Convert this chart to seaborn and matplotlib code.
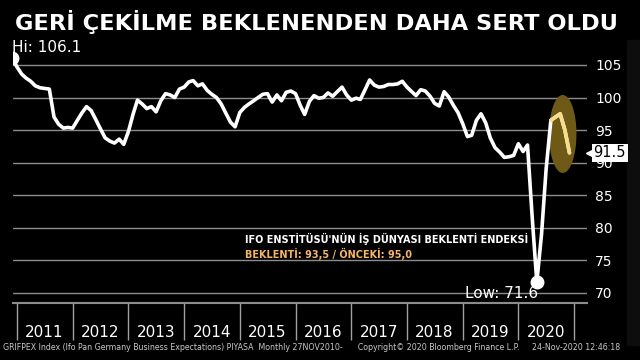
import matplotlib
matplotlib.use("Agg")
import numpy as np
import pandas as pd
import matplotlib.pyplot as plt
import matplotlib.dates as mdates
import seaborn as sns
from matplotlib.patches import Ellipse, Rectangle
from matplotlib.transforms import blended_transform_factory

# Ifo business expectations, monthly, Nov 2010 - Nov 2020
# (Bloomberg plots each monthly value at the end of its month)
dates = pd.date_range("2010-12-01", periods=121, freq="MS")
values = [
    106.1, 104.7, 103.6, 103.0, 102.5, 101.8, 101.5, 101.4, 101.3, 97.0,
    95.9, 95.3, 95.4, 95.3, 96.5, 97.6, 98.6, 98.0, 96.6, 95.2,
    93.8, 93.3, 93.0, 93.6, 92.8, 94.8, 97.5, 99.6, 99.0, 98.3,
    98.6, 97.8, 99.5, 100.6, 100.4, 100.0, 101.3, 101.6, 102.4, 102.6,
    101.8, 102.1, 101.1, 100.5, 100.0, 99.0, 97.6, 96.2, 95.5, 97.7,
    98.5, 99.0, 99.5, 100.0, 100.5, 100.6, 99.3, 100.4, 99.5, 100.8,
    101.0, 100.6, 98.8, 97.4, 99.4, 100.3, 99.9, 100.0, 100.7, 100.2,
    100.9, 101.6, 100.4, 99.6, 99.9, 99.7, 101.2, 102.7, 101.9, 101.6,
    101.7, 102.0, 102.0, 102.1, 102.5, 101.6, 100.9, 100.3, 101.2, 101.0,
    100.2, 99.1, 98.7, 100.9, 100.1, 98.8, 97.7, 96.0, 94.0, 94.2,
    96.5, 97.5, 96.1, 93.8, 92.3, 91.6, 90.8, 90.9, 91.1, 92.9,
    91.7, 92.7, 81.5, 71.6, 79.0, 89.0, 96.5, 97.0, 97.5, 95.0,
    91.5,
]
highlight_from = 116  # last months drawn in yellow

yticks = [70, 75, 80, 85, 90, 95, 100, 105]

title = "GERİ ÇEKİLME BEKLENENDEN DAHA SERT OLDU"
legend_line1 = "IFO ENSTİTÜSÜ'NÜN İŞ DÜNYASI BEKLENTİ ENDEKSİ"
legend_line2 = "BEKLENTİ: 93,5 / ÖNCEKİ: 95,0"
footer = ("GRIFPEX Index (Ifo Pan Germany Business Expectations) PIYASA  Monthly 27NOV2010-"
          "      Copyright© 2020 Bloomberg Finance L.P.     24-Nov-2020 12:46:18")

df = pd.DataFrame({"date": dates, "value": values})

sns.set_theme(style="dark", rc={"axes.facecolor": "black", "figure.facecolor": "black"})
plt.rcParams["font.family"] = ["DejaVu Sans"]

fig = plt.figure(figsize=(6.4, 3.6), dpi=100)
fig.patches.append(Rectangle((627 / 640, 15 / 360), 13 / 640, 305 / 360,
                             transform=fig.transFigure, color="#0d0d0d", zorder=-1))
ax = fig.add_axes([13 / 640, 1 - 303 / 360, 574 / 640, 260 / 360])
ax.set_facecolor("black")

# highlight ellipse behind the last months
ax.add_patch(Ellipse((mdates.date2num(pd.Timestamp("2020-10-18")), 94.4),
                     width=180, height=12, fc="#6e5916", ec="none", zorder=2))

sns.lineplot(data=df, x="date", y="value", ax=ax, color="white", lw=2.6, zorder=3)
sns.lineplot(data=df.iloc[highlight_from:], x="date", y="value", ax=ax,
             color="#f8dc8c", lw=2.6, zorder=4)

hi_i = int(np.argmax(values))
lo_i = int(np.argmin(values))
ax.plot(dates[hi_i], values[hi_i], "o", color="white", ms=9, zorder=5)
ax.plot(dates[lo_i], values[lo_i], "o", color="white", ms=9, zorder=5)
ax.annotate(f"Low: {values[lo_i]:.1f}", xy=(dates[lo_i], values[lo_i]), xytext=(1, -11),
            textcoords="offset pixels", ha="right", va="center", color="white",
            fontsize=11, zorder=6)

ax.set_xlim(pd.Timestamp("2010-12-06"), pd.Timestamp("2021-03-26"))
ax.set_ylim(68.42, 108.38)
ax.set_xlabel("")
ax.set_ylabel("")

ax.set_yticks(yticks)
ax.yaxis.tick_right()
ax.tick_params(axis="y", length=0, pad=6, labelsize=10, labelcolor="white")
ax.grid(axis="y", color="#8c8c8c", lw=1)
ax.grid(axis="x", visible=False)

ax.xaxis.set_major_locator(mdates.YearLocator())
ax.xaxis.set_major_formatter(matplotlib.ticker.NullFormatter())
ax.xaxis.set_minor_locator(mdates.MonthLocator(bymonth=7))
ax.xaxis.set_minor_formatter(mdates.DateFormatter("%Y"))
ax.tick_params(axis="x", which="major", bottom=True, length=26.6, width=1,
               color="#a0a0a0", direction="out")
ax.tick_params(axis="x", which="minor", bottom=True, length=0, pad=16,
               labelsize=11, labelcolor="white")

for s in ["top", "left", "right"]:
    ax.spines[s].set_visible(False)
ax.spines["bottom"].set_color("#8c8c8c")
ax.spines["bottom"].set_linewidth(1.5)

# last value tag on the right axis
last = values[-1]
tr = blended_transform_factory(ax.transAxes, ax.transData)
ax.plot([1.007], [last], marker="<", ms=7, color="white", transform=tr, clip_on=False, zorder=6)
ax.text(1.0115, last, f"{last:.1f}", transform=tr, ha="left", va="center", fontsize=10.5,
        color="black", bbox=dict(boxstyle="square,pad=0.12", fc="white", ec="none"),
        clip_on=False, zorder=7)

fig.text(12 / 640, 1 - 47.5 / 360, f"Hi: {values[hi_i]:.1f}", color="white", fontsize=11, va="center")

t_title = fig.text(15 / 640, 1 - 22 / 360, title, color="white", fontweight="bold",
                   fontsize=18, va="center")
t_leg1 = fig.text(245 / 640, 1 - 239 / 360, legend_line1, color="white", fontweight="bold",
                  fontsize=8, va="center")
t_leg2 = fig.text(245 / 640, 1 - 254 / 360, legend_line2, color="#f5b565", fontweight="bold",
                  fontsize=8, va="center")
t_foot = fig.text(3 / 640, 1 - 348 / 360, footer, color="#c8c8c8", fontsize=6, va="center")


def fit_width(t, width_px):
    fig.canvas.draw()
    w = t.get_window_extent(renderer=fig.canvas.get_renderer()).width
    t.set_fontsize(t.get_fontsize() * width_px / w)


fit_width(t_title, 598)
fit_width(t_leg1, 282)
t_leg2.set_fontsize(t_leg1.get_fontsize())
fit_width(t_foot, 625)

fig.savefig("out.png", dpi=100, facecolor="black")
